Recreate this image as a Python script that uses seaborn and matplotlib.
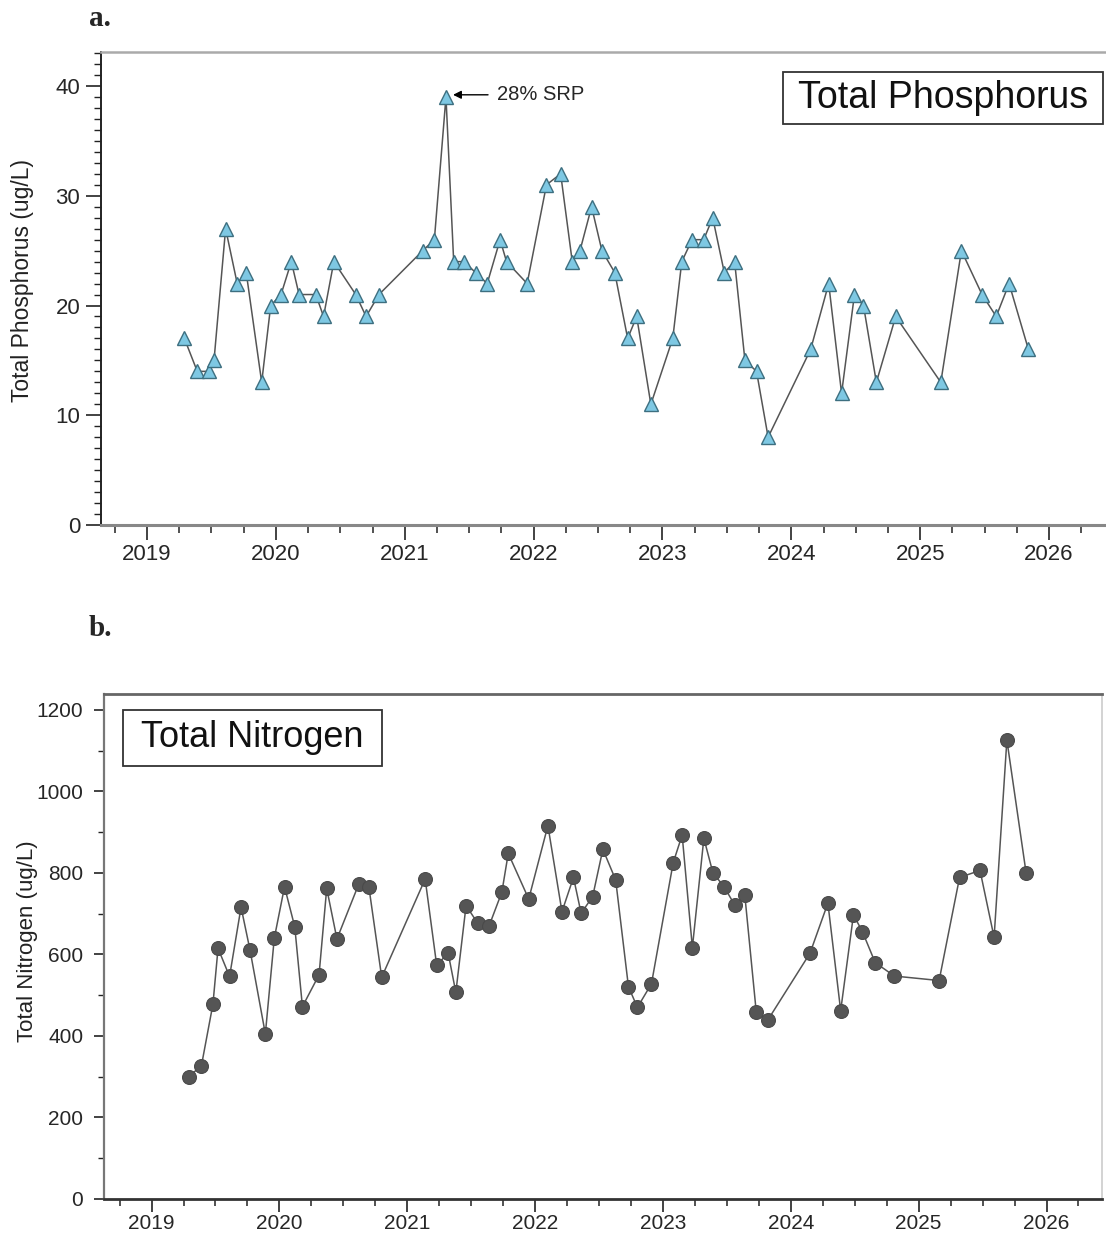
import matplotlib
matplotlib.use("Agg")
import matplotlib.pyplot as plt
from matplotlib.ticker import MultipleLocator, FixedLocator
from matplotlib.patches import Rectangle
import seaborn as sns
import pandas as pd

# ---------------- data ----------------
# sampling dates as decimal years (shared by both panels)
dates = [2019.29, 2019.39, 2019.48, 2019.52, 2019.61, 2019.70, 2019.77, 2019.89, 2019.96,
         2020.04, 2020.12, 2020.18, 2020.31, 2020.37, 2020.45, 2020.62, 2020.70, 2020.80,
         2021.14, 2021.23, 2021.32, 2021.38, 2021.46, 2021.55, 2021.64, 2021.74, 2021.79, 2021.95,
         2022.10, 2022.21, 2022.30, 2022.36, 2022.45, 2022.53, 2022.63, 2022.73, 2022.80, 2022.91,
         2023.08, 2023.15, 2023.23, 2023.32, 2023.39, 2023.48, 2023.56, 2023.64, 2023.73, 2023.82,
         2024.15, 2024.29, 2024.39, 2024.49, 2024.56, 2024.66, 2024.81,
         2025.16, 2025.32, 2025.48, 2025.59, 2025.69, 2025.84]

total_phosphorus = [17, 14, 14, 15, 27, 22, 23, 13, 20,
                    21, 24, 21, 21, 19, 24, 21, 19, 21,
                    25, 26, 39, 24, 24, 23, 22, 26, 24, 22,
                    31, 32, 24, 25, 29, 25, 23, 17, 19, 11,
                    17, 24, 26, 26, 28, 23, 24, 15, 14, 8,
                    16, 22, 12, 21, 20, 13, 19,
                    13, 25, 21, 19, 22, 16]

total_nitrogen = [300, 327, 478, 615, 546, 716, 611, 405, 640,
                  766, 668, 472, 550, 762, 638, 772, 765, 544,
                  785, 574, 603, 507, 720, 677, 670, 753, 848, 736,
                  916, 705, 789, 701, 742, 858, 783, 521, 470, 528,
                  825, 893, 617, 885, 801, 765, 722, 746, 458, 439,
                  603, 726, 462, 697, 656, 580, 547,
                  536, 789, 806, 642, 1126, 801]

year_ticks = [2019, 2020, 2021, 2022, 2023, 2024, 2025, 2026]
tp_yticks = [0, 10, 20, 30, 40]
tn_yticks = [0, 200, 400, 600, 800, 1000, 1200]

peak_label = "28% SRP"
tp_title = "Total Phosphorus"
tn_title = "Total Nitrogen"
tp_ylabel = "Total Phosphorus (ug/L)"
tn_ylabel = "Total Nitrogen (ug/L)"

df = pd.DataFrame({"date": dates, "tp": total_phosphorus, "tn": total_nitrogen})

# ---------------- style ----------------
sns.set_style("white")
plt.rcParams["font.family"] = ["Liberation Sans", "DejaVu Sans"]

W, H = 1106, 1238
fig = plt.figure(figsize=(W / 100, H / 100), dpi=100)

def px_axes(x0, x1, y0, y1):
    return fig.add_axes([x0 / W, 1 - y1 / H, (x1 - x0) / W, (y1 - y0) / H])

# ---------------- panel a ----------------
ax1 = px_axes(101, 1106, 52, 525)
sns.lineplot(data=df, x="date", y="tp", ax=ax1, sort=False, color="#555555", lw=1.1,
             marker="^", markersize=10.5, markerfacecolor="#7ec8e3",
             markeredgecolor="#3d6f80", markeredgewidth=1.0)
ax1.set_xlim(2018.643, 2026.442)
ax1.set_ylim(0, 43.1)
ax1.xaxis.set_major_locator(FixedLocator(year_ticks))
ax1.xaxis.set_minor_locator(MultipleLocator(0.25))
ax1.set_xticklabels([str(y) for y in year_ticks])
ax1.yaxis.set_major_locator(FixedLocator(tp_yticks))
ax1.yaxis.set_minor_locator(MultipleLocator(1))
ax1.set_xlabel("")
ax1.set_ylabel("")
ax1.tick_params(axis="x", which="major", direction="out", length=11, width=1.2,
                color="#222222", labelsize=16, pad=3, bottom=True)
ax1.tick_params(axis="x", which="minor", direction="out", length=6, width=1.1,
                color="#222222", bottom=True)
ax1.tick_params(axis="y", which="major", direction="out", length=11, width=1.2,
                color="#222222", labelsize=16, pad=4, left=True)
ax1.tick_params(axis="y", which="minor", direction="out", length=5, width=1.0,
                color="#222222", left=True)
ax1.spines["left"].set_color("#222222"); ax1.spines["left"].set_linewidth(1.4)
ax1.spines["bottom"].set_color("#888888"); ax1.spines["bottom"].set_linewidth(2.2)
ax1.spines["top"].set_color("#aaaaaa"); ax1.spines["top"].set_linewidth(1.8)
ax1.spines["right"].set_visible(False)

ax1.annotate(peak_label, xy=(2021.375, 39.2), xytext=(2021.715, 39.2),
             fontsize=14.5, ha="left", va="center",
             arrowprops=dict(arrowstyle="-|>", color="black", lw=1.0,
                             shrinkA=4, shrinkB=0, mutation_scale=12))

ax1.add_patch(Rectangle((0.6786, 0.8475), 0.3184, 0.1102, transform=ax1.transAxes,
                        facecolor="white", edgecolor="#333333", lw=1.3, zorder=5))
ax1.text(0.8378, 0.9025, tp_title, transform=ax1.transAxes, fontsize=27,
         ha="center", va="center", zorder=6, color="#111111")

fig.text(23 / W, 1 - 281 / H, tp_ylabel, rotation=90, ha="center", va="center",
         fontsize=16.5, color="#222222")
fig.text(89 / W, 1 - 19 / H, "a.", ha="left", va="center", fontsize=21,
         fontweight="bold", family=["Liberation Serif", "DejaVu Serif"])

# ---------------- panel b ----------------
ax2 = px_axes(104, 1102, 694, 1199)
sns.lineplot(data=df, x="date", y="tn", ax=ax2, sort=False, color="#555555", lw=1.1,
             marker="o", markersize=10, markerfacecolor="#555555",
             markeredgecolor="#4a4a4a", markeredgewidth=0.8)
ax2.set_xlim(2018.628, 2026.434)
ax2.set_ylim(0, 1239)
ax2.xaxis.set_major_locator(FixedLocator(year_ticks))
ax2.xaxis.set_minor_locator(MultipleLocator(0.25))
ax2.set_xticklabels([str(y) for y in year_ticks])
ax2.yaxis.set_major_locator(FixedLocator(tn_yticks))
ax2.yaxis.set_minor_locator(MultipleLocator(100))
ax2.set_xlabel("")
ax2.set_ylabel("")
ax2.tick_params(axis="x", which="major", direction="out", length=9, width=1.2,
                color="#222222", labelsize=15, pad=2, bottom=True)
ax2.tick_params(axis="x", which="minor", direction="out", length=5, width=1.1,
                color="#222222", bottom=True)
ax2.tick_params(axis="y", which="major", direction="out", length=7, width=1.2,
                color="#222222", labelsize=15, pad=8, left=True)
ax2.tick_params(axis="y", which="minor", direction="out", length=4, width=1.0,
                color="#222222", left=True)
ax2.spines["left"].set_color("#777777"); ax2.spines["left"].set_linewidth(1.6)
ax2.spines["bottom"].set_color("#333333"); ax2.spines["bottom"].set_linewidth(2.0)
ax2.spines["top"].set_color("#666666"); ax2.spines["top"].set_linewidth(2.0)
ax2.spines["right"].set_color("#cccccc"); ax2.spines["right"].set_linewidth(1.2)

ax2.add_patch(Rectangle((0.019, 0.8574), 0.2595, 0.1109, transform=ax2.transAxes,
                        facecolor="white", edgecolor="#333333", lw=1.3, zorder=5))
ax2.text(0.1488, 0.9129, tn_title, transform=ax2.transAxes, fontsize=26,
         ha="center", va="center", zorder=6, color="#111111")

fig.text(28 / W, 1 - 941 / H, tn_ylabel, rotation=90, ha="center", va="center",
         fontsize=16, color="#222222")
fig.text(89 / W, 1 - 628 / H, "b.", ha="left", va="center", fontsize=21,
         fontweight="bold", family=["Liberation Serif", "DejaVu Serif"])

fig.savefig("out.png", dpi=100, facecolor="white")
